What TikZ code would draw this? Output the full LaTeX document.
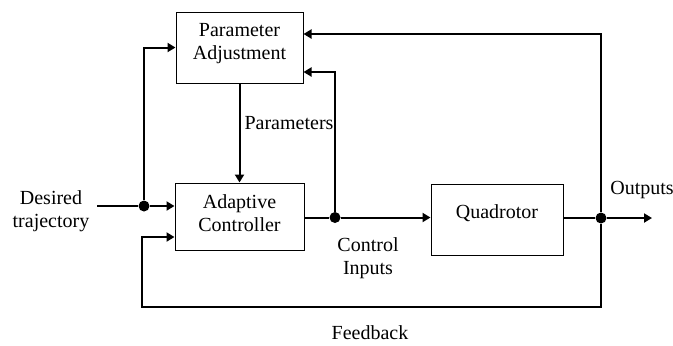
\documentclass[tikz,border=0pt]{standalone}
\usepackage{fontspec}
\setmainfont{Liberation Serif}
\usetikzlibrary{arrows.meta,positioning}
\tikzset{
  >={Triangle[length=4pt,width=4.5pt]},
  block/.style={draw,line width=0.5pt,align=center,inner sep=3pt},
  arrow/.style={->,line width=1pt},
  wire/.style={line width=1pt},
  junction/.style={circle,fill,inner sep=0pt,minimum size=5.5pt},
  lbl/.style={align=center,inner sep=1pt},
}

\begin{document}
\begin{tikzpicture}[x=0.5pt,y=-0.5pt,font=\fontsize{10}{11.5}\selectfont]
\useasboundingbox (0,0) rectangle (673,345);
% blocks
\node[block,minimum width=63.5pt,minimum height=35.5pt,text depth=6pt] (pa) at (239.5,47.5) {Parameter\\Adjustment};
\node[block,minimum width=64.5pt,minimum height=33.5pt,text depth=3pt,below=49.5pt of pa] (ac) {Adaptive\\Controller};
\node[block,minimum width=66pt,minimum height=35.5pt,text height=7pt,text depth=7.9pt,right=63pt of ac,yshift=-1.5pt] (quad) {Quadrotor};
% junctions
\node[junction] (jin) at (144,206) {};
\node[junction] (jctrl) at (335,217.5) {};
\node[junction] (jout) at (601,218) {};
\coordinate (src) at (97,206);
\coordinate (snk) at (652,218);
\coordinate (fbl) at (142,307);
% labels
\node[lbl] (desired) at (51,211) {Desired\\trajectory};
\node[lbl] (params) at (289,123) {Parameters};
\node[lbl] (ctrl) at (368,258) {Control\\Inputs};
\node[lbl] (outs) at (642,190) {Outputs};
\node[lbl] (fb) at (370,333) {Feedback};
% connectors
\draw[wire] (src) -- (jin);
\draw[arrow] (jin) -- (ac.west |- jin);
\draw[arrow] (jin) |- (pa.west);
\draw[arrow] (pa.south) -- (ac.north);
\draw[wire] (ac.east |- jctrl) -- (jctrl);
\draw[arrow] (jctrl) -- (quad.west |- jctrl);
\draw[arrow] (jctrl) |- ([yshift=-12.25pt]pa.east);
\draw[wire] (quad.east |- jout) -- (jout);
\draw[arrow] (jout) -- (snk);
\draw[arrow] (jout) |- ([yshift=6.75pt]pa.east);
\draw[arrow] (jout) |- (fbl) |- ([yshift=-10.25pt]ac.west);
\end{tikzpicture}
\end{document}
